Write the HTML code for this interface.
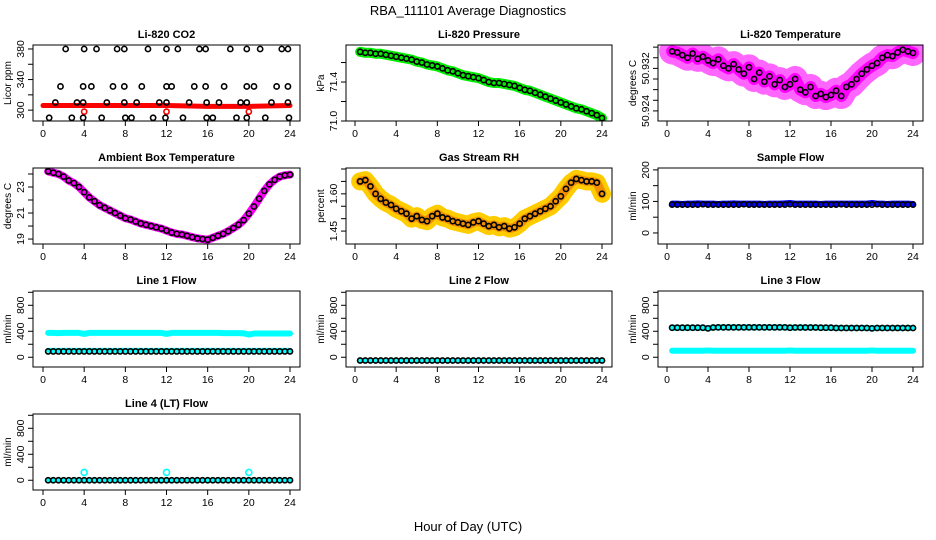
<!DOCTYPE html>
<html><head><meta charset="utf-8"><style>
body{margin:0;background:#fff;}
svg{display:block;font-family:"Liberation Sans",Arial,sans-serif;}
</style></head><body>
<svg id="chart" width="936" height="540" viewBox="0 0 936 540">
<text x="468" y="15" text-anchor="middle" font-size="13">RBA_111101  Average Diagnostics</text>
<text x="468" y="531" text-anchor="middle" font-size="13">Hour of Day (UTC)</text>
</svg>
<script>
const hrs=[0.5,1,1.5,2,2.5,3,3.5,4,4.5,5,5.5,6,6.5,7,7.5,8,8.5,9,9.5,10,10.5,11,11.5,12,12.5,13,13.5,14,14.5,15,15.5,16,16.5,17,17.5,18,18.5,19,19.5,20,20.5,21,21.5,22,22.5,23,23.5,24];
const xTicks=[0,4,8,12,16,20,24];
const co2Hours=[2.2,4.0,5.2,7.2,7.9,10.2,12.0,13.1,15.2,15.8,18.2,19.8,21.1,23.2,23.8,1.7,3.9,4.7,6.8,7.9,9.6,12.0,12.5,14.7,15.8,17.6,19.8,20.5,22.7,23.8,1.2,3.3,3.9,6.2,7.9,9.1,11.3,12.0,14.2,15.9,17.1,19.2,19.8,22.2,23.8,0.6,2.8,3.9,5.7,8.0,8.6,10.7,11.9,13.6,15.9,16.5,18.8,19.8,21.6,23.9];
const co2Values=[380,380,380,380,380,380,380,380,380,380,380,380,380,380,380,331,331,331,331,331,331,331,331,331,331,331,331,331,331,331,310,310,310,310,310,310,310,310,310,310,310,310,310,310,310,290,290,290,290,290,290,290,290,290,290,290,290,290,290,290];
const co2RedHours=[0,4,8,12,16,20,24];
const co2RedValues=[306,306,306,306,305,305,306];
const co2RedOutHours=[4,12,20];
const co2RedOutValues=[298,298,298];
const pressure=[71.71,71.70,71.70,71.69,71.69,71.68,71.67,71.66,71.65,71.64,71.63,71.61,71.60,71.58,71.57,71.56,71.54,71.52,71.51,71.49,71.47,71.46,71.45,71.44,71.42,71.40,71.39,71.39,71.38,71.37,71.36,71.34,71.32,71.31,71.29,71.27,71.25,71.23,71.21,71.19,71.17,71.15,71.13,71.12,71.10,71.08,71.06,71.03];
const licorTemp=[50.9352,50.9350,50.9345,50.9340,50.9348,50.9338,50.9342,50.9335,50.9330,50.9337,50.9325,50.9320,50.9328,50.9318,50.9310,50.9322,50.9300,50.9312,50.9295,50.9305,50.9290,50.9298,50.9285,50.9290,50.9300,50.9280,50.9275,50.9285,50.9268,50.9272,50.9266,50.9270,50.9278,50.9268,50.9285,50.9290,50.9300,50.9310,50.9318,50.9325,50.9330,50.9340,50.9345,50.9343,50.9350,50.9355,50.9352,50.9349];
const ambient=[24.2,24.1,24.0,23.8,23.5,23.3,23.0,22.6,22.2,21.9,21.6,21.4,21.2,21.0,20.8,20.6,20.5,20.35,20.2,20.1,20.0,19.9,19.8,19.65,19.5,19.4,19.35,19.25,19.15,19.05,19.0,18.95,19.1,19.25,19.4,19.6,19.85,20.1,20.45,20.95,21.5,22.1,22.7,23.2,23.55,23.8,23.9,23.95];
const rh=[1.65,1.655,1.63,1.60,1.58,1.565,1.555,1.54,1.53,1.52,1.50,1.51,1.495,1.49,1.51,1.52,1.505,1.50,1.49,1.485,1.48,1.475,1.485,1.49,1.48,1.47,1.475,1.465,1.47,1.46,1.465,1.48,1.50,1.51,1.52,1.53,1.54,1.55,1.57,1.59,1.62,1.645,1.66,1.655,1.65,1.65,1.645,1.60];
const sampleFlow=[90,90,90,90,90,90,91,90,90,90,90,90,90,90,91,90,90,90,90,90,90,90,90,91,90,90,90,90,90,90,90,90,90,91,90,90,90,90,90,90,91,90,90,90,90,90,90,90];
const sampleFlowBand=[93,93,92,93,93,94,93,93,93,92,93,93,94,93,93,93,93,93,92,93,93,93,94,95,93,93,93,93,93,92,93,93,93,93,93,93,93,93,93,95,93,93,92,93,93,93,93,92];
const line1Upper=[375,375,372,375,375,375,375,360,375,375,375,375,375,375,375,375,375,375,375,375,375,375,375,360,375,375,375,375,375,375,375,375,375,375,372,372,372,372,368,350,365,365,365,365,365,365,365,365];
const line1Lower=[105,105,105,105,105,105,105,105,105,105,105,105,105,105,105,105,105,105,105,105,105,105,105,105,105,105,105,105,105,105,105,105,105,105,105,105,105,105,105,105,105,105,105,105,105,105,105,105];
const line1Black=[90,90,90,90,90,90,90,90,90,90,90,90,90,90,90,90,90,90,90,90,90,90,90,90,90,90,90,90,90,90,90,90,90,90,90,90,90,90,90,90,90,90,90,90,90,90,90,90];
const line2Flow=[-50,-50,-50,-50,-50,-50,-50,-50,-50,-50,-50,-50,-50,-50,-50,-50,-50,-50,-50,-50,-50,-50,-50,-50,-50,-50,-50,-50,-50,-50,-50,-50,-50,-50,-50,-50,-50,-50,-50,-50,-50,-50,-50,-50,-50,-50,-50,-50];
const line3Upper=[455,455,455,455,455,455,455,445,458,460,460,460,460,460,460,460,460,460,460,460,460,460,460,455,458,458,458,458,458,455,455,455,450,450,450,450,450,450,450,445,450,450,450,450,450,450,450,450];
const line3Lower=[100,100,100,100,100,100,100,105,100,100,100,100,100,100,100,100,100,100,100,100,100,100,100,105,100,100,100,100,100,100,100,100,100,100,100,100,100,100,100,105,100,100,100,100,100,100,100,100];
const line4Black=[0,0,0,0,0,0,0,0,0,0,0,0,0,0,0,0,0,0,0,0,0,0,0,0,0,0,0,0,0,0,0,0,0,0,0,0,0,0,0,0,0,0,0,0,0,0,0,0];
const line4OutHours=[4,12,20];
const line4OutValues=[120,120,120];

const NS='http://www.w3.org/2000/svg';
const svg=document.getElementById('chart');
const cols=[{bl:33,br:300,x0:43,x24:290},{bl:346,br:612,x0:355,x24:602},{bl:658,br:923,x0:667,x24:913}];
const rows=[{t:45,b:121},{t:168,b:244},{t:291,b:367},{t:414,b:490}];
function mk(tag,attrs,parent){const e=document.createElementNS(NS,tag);for(const k in attrs)e.setAttribute(k,attrs[k]);(parent||svg).appendChild(e);return e;}

function panel(name,title,ylab,c,r,dom,ticks,labels){
  const C=cols[c],R=rows[r];
  const g=mk('g',{});
  
  
  const sx=h=>C.x0+h*(C.x24-C.x0)/24;
  const sy=v=>R.b-(v-dom[0])/(dom[1]-dom[0])*(R.b-R.t);
  const clip='clip'+name;
  const cp=mk('clipPath',{id:clip},g);mk('rect',{x:C.bl,y:R.t,width:C.br-C.bl,height:R.b-R.t},cp);
  const pg=mk('g',{'clip-path':`url(#${clip})`},g);
  const box=mk('rect',{x:C.bl,y:R.t,width:C.br-C.bl,height:R.b-R.t,fill:'none',stroke:'#000','stroke-width':1},g);
  
  
  const tt=mk('text',{x:(C.bl+C.br)/2,y:R.t-7,'text-anchor':'middle','font-size':11,'font-weight':'bold'},g);
  tt.textContent=title;
  
  
  xTicks.forEach(h=>{
    mk('line',{x1:sx(h),x2:sx(h),y1:R.b,y2:R.b+5,stroke:'#000'},g);
    const t=mk('text',{x:sx(h),y:R.b+16,'text-anchor':'middle','font-size':10.5},g);
    t.textContent=h;
    
    
  });
  ticks.forEach((v,i)=>{
    const y=sy(v);
    mk('line',{x1:C.bl-5,x2:C.bl,y1:y,y2:y,stroke:'#000'},g);
    if(labels[i]!==''){
      const t=mk('text',{x:C.bl-9,y:y,'text-anchor':'middle','font-size':10.5,transform:`rotate(-90 ${C.bl-9} ${y})`},g);
      t.textContent=labels[i];
      
      
    }
  });
  const yl=mk('text',{x:C.bl-22,y:(R.t+R.b)/2,'text-anchor':'middle','font-size':10,transform:`rotate(-90 ${C.bl-22} ${(R.t+R.b)/2})`},g);
  yl.textContent=ylab;
  
  
  return {
    band(xs,vs,color,w,nm){
      const p=mk('polyline',{points:xs.map((h,i)=>sx(h)+','+sy(vs[i])).join(' '),fill:'none',stroke:color,'stroke-width':w,'stroke-linejoin':'round','stroke-linecap':'round'},pg);
      
      
    },
    pts(xs,vs,color,nm,rr){
      xs.forEach((h,i)=>{
        const e=mk('circle',{cx:sx(h),cy:sy(vs[i]),r:rr||2.6,fill:'none',stroke:color,'stroke-width':1.6},pg);
        
        
      });
    }
  };
}

let p;
p=panel('co2','Li-820 CO2','Licor ppm',0,0,[285.8,385.2],[300,320,340,360,380],['300','','340','','380']);
p.band(co2RedHours,co2RedValues,'#ff0000',5,'co2-raw-band');
p.pts(co2RedOutHours,co2RedOutValues,'#ff0000','co2-raw-outlier');
p.pts(co2Hours,co2Values,'#000','co2-average-point');

p=panel('pressure','Li-820 Pressure','kPa',1,0,[71.0,71.78],[71.0,71.2,71.4,71.6],['71.0','','71.4','']);
p.band(hrs,pressure,'#00ee00',10,'pressure-raw-band');
p.pts(hrs,pressure,'#000','pressure-average-point');

p=panel('licor-temp','Li-820 Temperature','degrees C',2,0,[50.9221,50.9364],[50.924,50.926,50.928,50.930,50.932,50.934,50.936],['50.924','','','','50.932','','']);
p.band(hrs,licorTemp,'#ff66ff',26,'licor-temp-raw-cloud');
p.band(hrs,licorTemp,'#ff00ff',12,'licor-temp-raw-band');
p.pts(hrs,licorTemp,'#000','licor-temp-average-point');

p=panel('ambient','Ambient Box Temperature','degrees C',0,1,[18.62,24.46],[19,20,21,22,23,24],['19','','21','','23','']);
p.band(hrs,ambient,'#ff00ff',8,'ambient-raw-band');
p.pts(hrs,ambient,'#000','ambient-average-point');

p=panel('rh','Gas Stream RH','percent',1,1,[1.398,1.704],[1.45,1.50,1.55,1.60,1.65,1.70],['1.45','','','1.60','','']);
p.band(hrs,rh,'#ffcc00',18,'rh-raw-band');
p.band(hrs,rh,'#f09000',9,'rh-raw-core');
p.pts(hrs,rh,'#000','rh-average-point');

p=panel('sample-flow','Sample Flow','ml/min',2,1,[-35,206],[0,50,100,150,200],['0','','100','','200']);
p.band(hrs,sampleFlowBand,'#0000ff',6,'sample-flow-raw-band');
p.pts(hrs,sampleFlow,'#000','sample-flow-average-point');

const fd=[-150,1020],ft=[0,200,400,600,800,1000],fl=['0','','400','','800',''];
p=panel('line1','Line 1 Flow','ml/min',0,2,fd,ft,fl);
p.band(hrs,line1Upper,'#00ffff',6,'line1-raw-upper');
p.band(hrs,line1Lower,'#00ffff',5,'line1-raw-lower');
p.pts(hrs,line1Black,'#000','line1-average-point');

p=panel('line2','Line 2 Flow','ml/min',1,2,fd,ft,fl);
p.band(hrs,line2Flow,'#00ffff',4,'line2-raw-band');
p.pts(hrs,line2Flow,'#000','line2-average-point');

p=panel('line3','Line 3 Flow','ml/min',2,2,fd,ft,fl);
p.band(hrs,line3Upper,'#00ffff',6,'line3-raw-upper');
p.band(hrs,line3Lower,'#00ffff',6,'line3-raw-lower');
p.pts(hrs,line3Upper,'#000','line3-average-point');

p=panel('line4','Line 4 (LT) Flow','ml/min',0,3,fd,ft,fl);
p.band(hrs,line4Black,'#00ffff',4,'line4-raw-band');
p.pts(line4OutHours,line4OutValues,'#00ffff','line4-raw-outlier',3);
p.pts(hrs,line4Black,'#000','line4-average-point');
</script>
</body></html>
